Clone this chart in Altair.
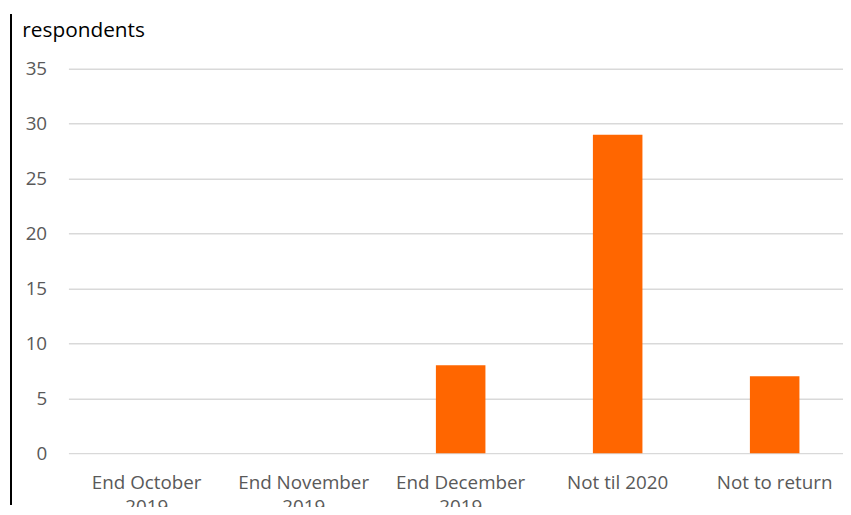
import altair as alt
import pandas as pd

categories = ["End October 2019", "End November 2019", "End December 2019", "Not til 2020", "Not to return"]
values = [0, 0, 8, 29, 7]
y_ticks = [0, 5, 10, 15, 20, 25, 30, 35]

df = pd.DataFrame({"category": categories, "respondents": values})

FONT = "Open Sans"

bars = alt.Chart(df).mark_bar(color="#FF6600", xOffset=5).encode(
    x=alt.X(
        "category:N",
        sort=categories,
        scale=alt.Scale(paddingInner=0.6845, paddingOuter=0.309),
        axis=alt.Axis(
            title=None,
            labelAngle=0,
            labelFont=FONT,
            labelFontSize=19,
            labelColor="#595959",
            labelPadding=21,
            labelLineHeight=24,
            labelOffset=5,
            ticks=False,
            domain=False,
            labelExpr="indexof(datum.label, '2019') > 0 ? [replace(datum.label, ' 2019', ''), '2019'] : datum.label",
        ),
    ),
    y=alt.Y(
        "respondents:Q",
        scale=alt.Scale(domain=[0, 35], nice=False),
        axis=alt.Axis(
            values=y_ticks,
            title="respondents",
            titleAngle=0,
            titleAlign="left",
            titleBaseline="alphabetic",
            titleX=-47,
            titleY=-33,
            titleFont=FONT,
            titleFontSize=21,
            titleFontWeight="normal",
            titleColor="#000000",
            labelFont=FONT,
            labelFontSize=19,
            labelColor="#595959",
            labelPadding=22,
            ticks=False,
            domain=False,
            gridColor="#D9D9D9",
            gridWidth=1.5,
        ),
    ),
)

border = alt.Chart(df).mark_rule(color="#000000", strokeWidth=1.5).encode(
    x=alt.value(-58), y=alt.value(-55), y2=alt.value(440)
)

chart = alt.layer(bars, border).properties(
    width=782,
    height=388,
    padding={"left": 61, "top": 59, "right": 0, "bottom": 52},
    autosize=alt.AutoSizeParams(type="none"),
).configure_view(stroke=None)

chart.save("out.html", embed_options={"renderer": "svg", "actions": False})
